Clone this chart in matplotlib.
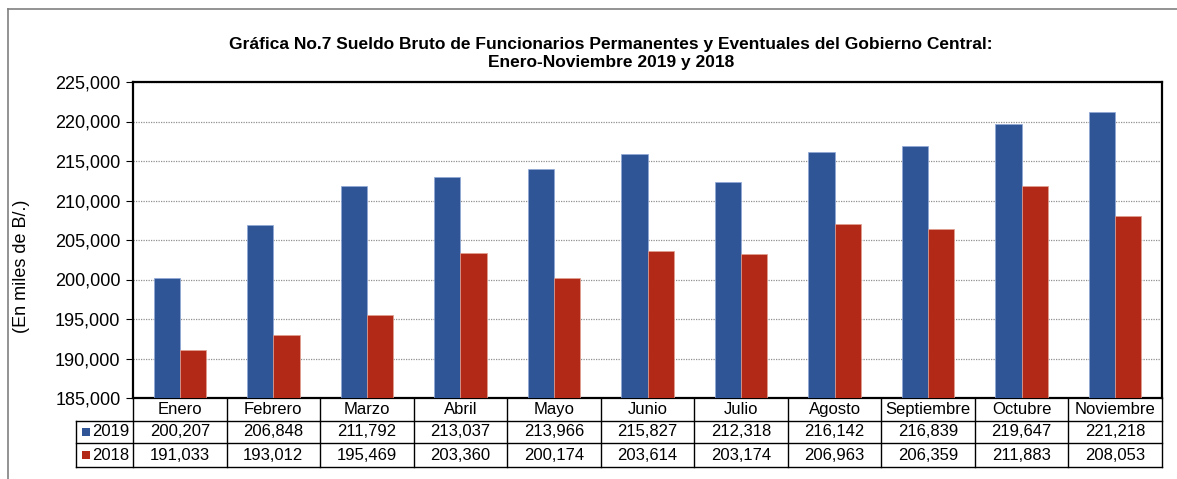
import matplotlib.pyplot as plt
from matplotlib.lines import Line2D
from matplotlib.patches import Rectangle
import numpy as np

plt.rcParams['font.family'] = ['Liberation Sans', 'DejaVu Sans']

meses = ["Enero", "Febrero", "Marzo", "Abril", "Mayo", "Junio", "Julio",
         "Agosto", "Septiembre", "Octubre", "Noviembre"]
v2019 = [200207, 206848, 211792, 213037, 213966, 215827, 212318,
         216142, 216839, 219647, 221218]
v2018 = [191033, 193012, 195469, 203360, 200174, 203614, 203174,
         206963, 206359, 211883, 208053]
series = [("2019", v2019, "#2F5597"), ("2018", v2018, "#B22A17")]

fig = plt.figure(figsize=(11.77, 4.79), dpi=100)
ax = fig.add_axes([133 / 1177, 1 - 398 / 479, 1029 / 1177, 316 / 479])

x = np.arange(len(meses))
w = 0.28
ax.bar(x - 0.14, v2019, w, color=series[0][2], edgecolor="#8FA8D8", linewidth=0.5, zorder=3)
ax.bar(x + 0.14, v2018, w, color=series[1][2], edgecolor="#E0A090", linewidth=0.5, zorder=3)

ax.set_xlim(-0.5, len(meses) - 0.5)
ax.set_ylim(185000, 225000)
ax.set_yticks(np.arange(185000, 225001, 5000))
ax.yaxis.set_major_formatter(plt.FuncFormatter(lambda v, p: f"{v:,.0f}"))
ax.tick_params(axis='y', labelsize=13, length=5, width=0.8, pad=4)
ax.set_xticks([])
for s in ax.spines.values():
    s.set_linewidth(1.6)
    s.set_color("black")
ax.grid(axis='y', linestyle=(0, (1, 1)), color="#909090", linewidth=0.9, zorder=1)

fig.text(22 / 1177, 1 - 266 / 479, "(En miles de B/.)", rotation=90,
         ha="center", va="center", fontsize=13)

# tabla de datos
tr = ax.get_xaxis_transform()
y_rows = [0, -23 / 316, -45 / 316, -69 / 316]
x_leg = -0.5 - 57 / (1029 / 11)
x_end = len(meses) - 0.5
kw = dict(transform=tr, clip_on=False, color="black", linewidth=1.0)
for yy in y_rows[1:]:
    ax.add_line(Line2D([x_leg, x_end], [yy, yy], **kw))
for i in range(len(meses) + 1):
    xx = i - 0.5
    ax.add_line(Line2D([xx, xx], [y_rows[0], y_rows[-1]], **kw))
ax.add_line(Line2D([x_leg, x_leg], [y_rows[1], y_rows[-1]], **kw))

for i, m in enumerate(meses):
    ax.text(i, (y_rows[0] + y_rows[1]) / 2, m, transform=tr, ha="center", va="center", fontsize=12)
for r, (nombre, vals, col) in enumerate(series):
    yc = (y_rows[r + 1] + y_rows[r + 2]) / 2
    for i, v in enumerate(vals):
        ax.text(i, yc, f"{v:,}", transform=tr, ha="center", va="center", fontsize=12)
    ax.add_patch(Rectangle((x_leg + 0.065, yc - 0.013), 0.085, 0.026, transform=tr,
                           clip_on=False, facecolor=col, edgecolor="none"))
    ax.text(x_leg + 0.17, yc, nombre, transform=tr, ha="left", va="center", fontsize=12)

fig.text(611 / 1177, 1 - 45 / 479,
         "Gráfica No.7 Sueldo Bruto de Funcionarios Permanentes y Eventuales del Gobierno Central:",
         ha="center", va="center", fontsize=12.5, fontweight="bold")
fig.text(611 / 1177, 1 - 63 / 479, "Enero-Noviembre 2019 y 2018",
         ha="center", va="center", fontsize=12.5, fontweight="bold")

# marco exterior
fig.add_artist(Line2D([8 / 1177, 8 / 1177], [0, 1 - 9 / 479], transform=fig.transFigure, color="#808080", linewidth=1.2))
fig.add_artist(Line2D([8 / 1177, 1], [1 - 9 / 479, 1 - 9 / 479], transform=fig.transFigure, color="#808080", linewidth=1.2))

fig.savefig("out.png", dpi=100)
